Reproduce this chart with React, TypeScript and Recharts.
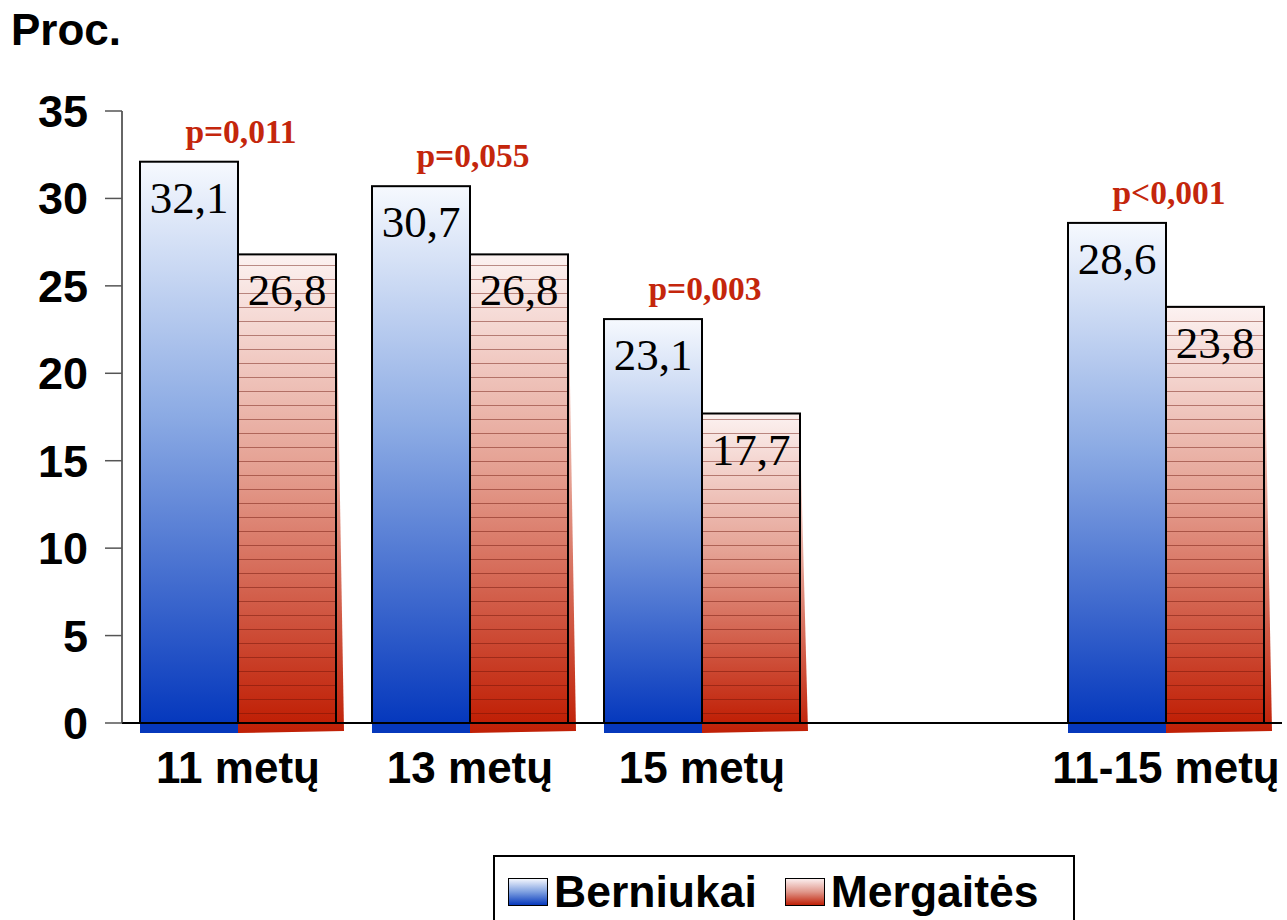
import React from "react";
import { BarChart, Bar, XAxis, YAxis, LabelList } from "recharts";

const categories = ["11 metų", "13 metų", "15 metų", "", "11-15 metų"];
const boys = [32.1, 30.7, 23.1, null, 28.6];
const girls = [26.8, 26.8, 17.7, null, 23.8];
const pValues = ["p=0,011", "p=0,055", "p=0,003", "", "p<0,001"];
const yTicks = [0, 5, 10, 15, 20, 25, 30, 35];

const chartData = categories.map((cat, i) => ({
    cat,
    boys: boys[i],
    girls: girls[i],
    p: pValues[i],
}));

const sans = "'Liberation Sans', Arial, sans-serif";
const serif = "'Liberation Serif', 'Times New Roman', serif";

const fmt = (v: number) => v.toFixed(1).replace(".", ",");

// bar with a flat shadow under the axis, red one also gets a slanted edge
const makeShape = (kind: "blue" | "red") => (props: any) => {
    const { x, y, width, height } = props;
    if (height == null || !width || height <= 0) return null;
    const bottom = y + height;
    const fill = kind === "blue" ? "url(#gradBlue)" : "url(#gradRed)";
    const dark = kind === "blue" ? "#0638bc" : "#c01f06";
    return (
        <g>
            {kind === "red" ? (
                <polygon
                    points={`${x},${bottom} ${x + width},${y + 14} ${x + width + 8},${bottom + 8} ${x},${bottom + 10}`}
                    fill={fill}
                />
            ) : (
                <rect x={x} y={bottom} width={width} height={10} fill={dark} />
            )}
            <rect x={x} y={y} width={width} height={height} fill={fill} />
            {kind === "red" && (
                <rect x={x} y={y} width={width} height={height} fill="url(#stripes)" />
            )}
            <rect
                x={x}
                y={y}
                width={width}
                height={height}
                fill="none"
                stroke="#000"
                strokeWidth={2}
            />
        </g>
    );
};

const renderValue = (props: any) => {
    const { x, y, width, value } = props;
    if (value == null) return null;
    return (
        <text
            x={x + width / 2}
            y={y + 51}
            textAnchor="middle"
            fontFamily={serif}
            fontSize={45}
            fill="#000"
        >
            {fmt(value)}
        </text>
    );
};

const renderP = (props: any) => {
    const { x, y, width, value } = props;
    if (!value) return null;
    return (
        <text
            x={x + width + 3}
            y={y - 19}
            textAnchor="middle"
            fontFamily={serif}
            fontWeight="bold"
            fontSize={33.5}
            fill="#c4260c"
        >
            {value}
        </text>
    );
};

const Legend = () => (
    <div
        style={{
            position: "absolute",
            left: 493,
            top: 855,
            width: 582,
            height: 90,
            border: "2px solid #000",
            boxSizing: "border-box",
            display: "flex",
            alignItems: "flex-start",
            paddingTop: 13,
            paddingLeft: 13,
            fontFamily: sans,
            fontWeight: "bold",
            fontSize: 44.5,
            lineHeight: "44px",
            background: "#fff",
        }}
    >
        {[
            { name: "Berniukai", bg: "linear-gradient(#f3f6fd, #7d9fe0 50%, #0638bc)" },
            { name: "Mergaitės", bg: "linear-gradient(#fbeeee, #e0968a 50%, #c01f06)" },
        ].map((item, i) => (
            <div key={item.name} style={{ display: "flex", alignItems: "center", marginRight: i === 0 ? 28 : 0 }}>
                <div
                    style={{
                        width: 40,
                        height: 28,
                        background: item.bg,
                        border: "1px solid #000",
                        boxSizing: "border-box",
                        marginRight: 6,
                    }}
                />
                <span>{item.name}</span>
            </div>
        ))}
    </div>
);

const App: React.FC = () => {
    return (
        <div
            style={{
                position: "absolute",
                left: 0,
                top: 0,
                width: 1287,
                height: 920,
                overflow: "hidden",
                background: "#fff",
            }}
        >
            <div
                style={{
                    position: "absolute",
                    left: 11,
                    top: 8,
                    fontFamily: sans,
                    fontWeight: "bold",
                    fontSize: 44,
                    lineHeight: 1,
                }}
            >
                Proc.
            </div>
            <BarChart
                width={1287}
                height={920}
                data={chartData}
                margin={{ top: 111, right: 5, bottom: 117, left: 0 }}
                barGap={0}
            >
                <defs>
                    <linearGradient id="gradBlue" x1="0" y1="0" x2="0" y2="1">
                        <stop offset="0%" stopColor="#f6f9fe" />
                        <stop offset="45%" stopColor="#8cabe4" />
                        <stop offset="100%" stopColor="#0538bd" />
                    </linearGradient>
                    <linearGradient id="gradRed" x1="0" y1="0" x2="0" y2="1">
                        <stop offset="0%" stopColor="#fcf2f1" />
                        <stop offset="45%" stopColor="#e5a193" />
                        <stop offset="100%" stopColor="#c01f05" />
                    </linearGradient>
                    <pattern id="stripes" width="10" height="14" patternUnits="userSpaceOnUse">
                        <line x1="0" y1="13.5" x2="10" y2="13.5" stroke="#6a1005" strokeOpacity={0.45} strokeWidth={1} />
                    </pattern>
                </defs>
                <XAxis
                    dataKey="cat"
                    height={80}
                    tickLine={false}
                    tickSize={0}
                    tickMargin={29}
                    axisLine={{ stroke: "#000", strokeWidth: 2 }}
                    tick={{ fill: "#000", fontFamily: sans, fontWeight: "bold", fontSize: 44 }}
                    interval={0}
                />
                <YAxis
                    width={122}
                    domain={[0, 35]}
                    ticks={yTicks}
                    tickSize={17}
                    tickMargin={17}
                    axisLine={{ stroke: "#333", strokeWidth: 1.5 }}
                    tickLine={{ stroke: "#555", strokeWidth: 1.5 }}
                    tick={{ fill: "#000", fontFamily: sans, fontWeight: "bold", fontSize: 45 }}
                />
                <Bar
                    dataKey="boys"
                    barSize={98}
                    shape={makeShape("blue")}
                    isAnimationActive={false}
                >
                    <LabelList dataKey="boys" content={renderValue} />
                    <LabelList dataKey="p" content={renderP} />
                </Bar>
                <Bar
                    dataKey="girls"
                    barSize={98}
                    shape={makeShape("red")}
                    isAnimationActive={false}
                >
                    <LabelList dataKey="girls" content={renderValue} />
                </Bar>
            </BarChart>
            <Legend />
        </div>
    );
};

export default App;
